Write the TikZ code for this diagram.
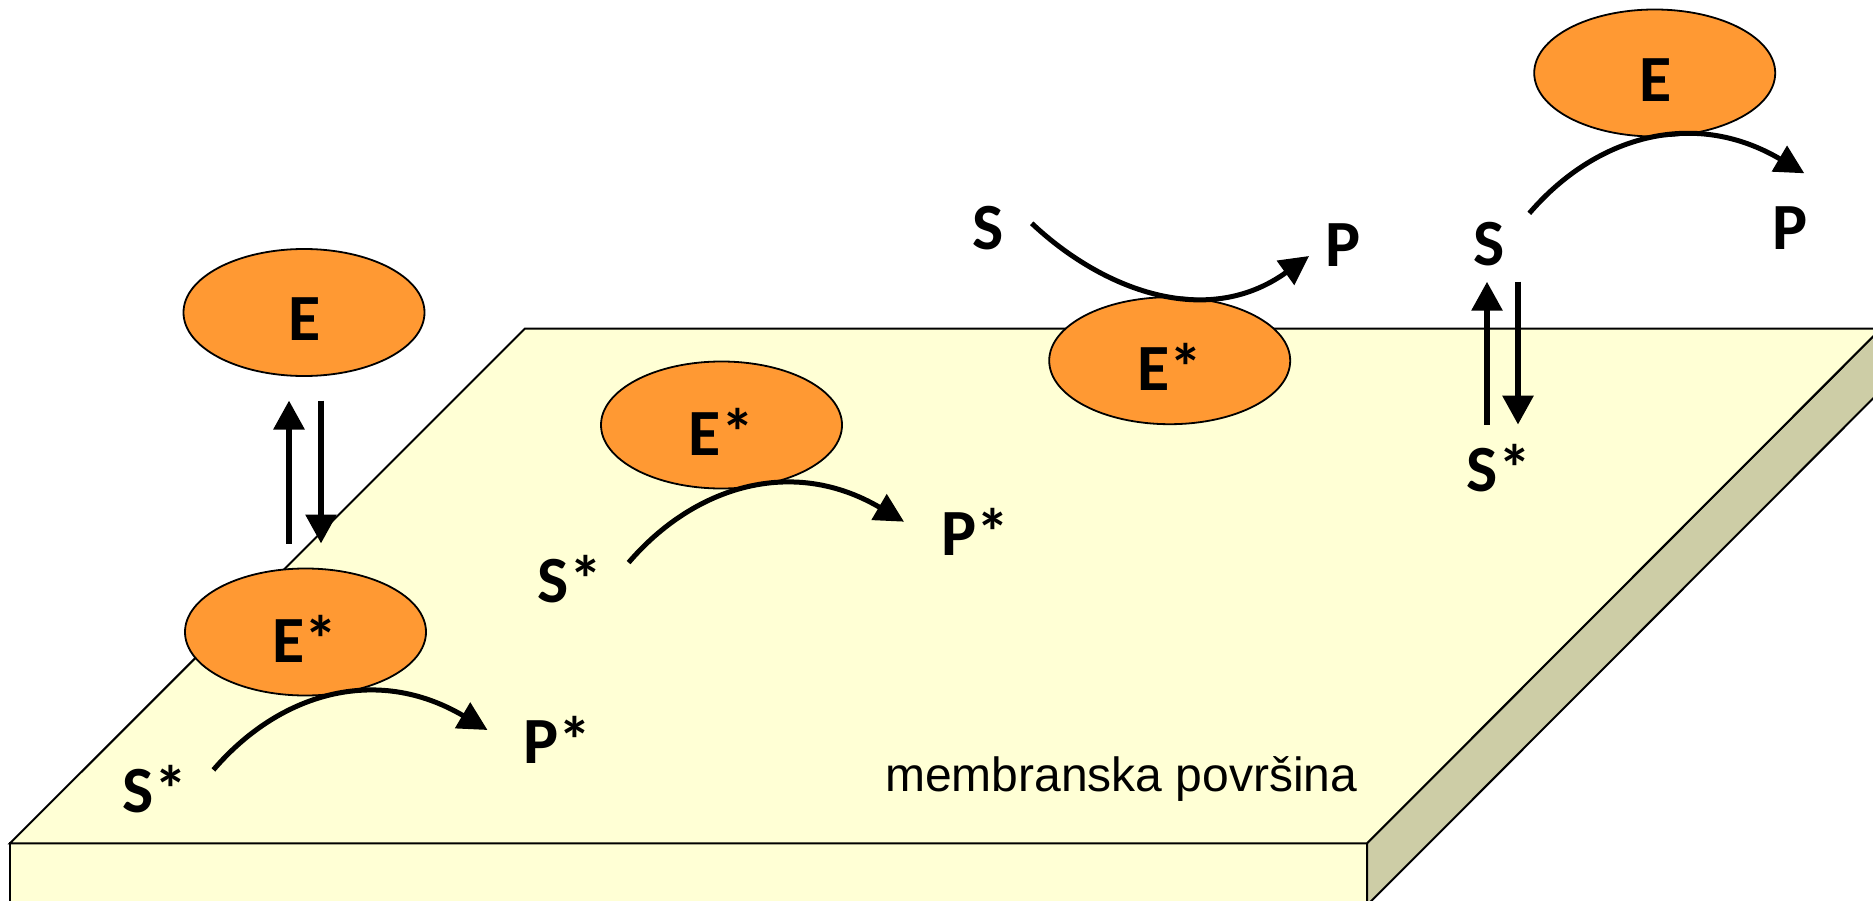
\documentclass[tikz,border=0pt]{standalone}
\usepackage{fontspec}
\setmainfont{Carlito}
\newfontfamily\labfont{Liberation Sans}
\usetikzlibrary{arrows.meta,shapes.geometric}
\definecolor{topface}{RGB}{255,255,213}
\definecolor{sideface}{RGB}{205,205,166}
\definecolor{enz}{RGB}{255,153,51}
\begin{document}
\begin{tikzpicture}[x=1pt,y=-1pt,
  enzyme/.style={ellipse, draw=black, line width=1.8pt, fill=enz,
    minimum width=241pt, minimum height=127pt, inner sep=0pt},
  mol/.style={font=\fontsize{66}{70}\selectfont\bfseries, inner sep=0pt, anchor=center},
  react/.style={line width=5pt, -{Triangle[length=29pt,width=29pt]}},
  eqarrow/.style={line width=6pt, -{Triangle[length=29pt,width=30pt]}},
  slab/.style={draw=black, line width=2pt, line join=miter}]
\useasboundingbox (0,0) rectangle (1873,901);
\clip (0,0) rectangle (1873,901);
% slab
\draw[slab, fill=sideface] (1367,843.3) -- (1881,328.5) -- (1881,390.5) -- (1367,905.3) -- cycle;
\draw[slab, fill=topface] (10,843.3) -- (1367,843.3) -- (1367,930) -- (10,930) -- cycle;
\draw[slab, fill=topface] (10,843.3) -- (525,328.5) -- (1881,328.5) -- (1367,843.3) -- cycle;
\node[anchor=base west, font=\labfont\fontsize{48}{50}\selectfont, inner sep=0pt] (surf) at (885,791.7) {membranska površina};
% enzymes
\node[enzyme] (e1) at (304,312.5) {};
\node[mol] (e1t) at (305,319) {E};
\node[enzyme] (e2) at (305.5,632) {};
\node[mol] (e2t) at (305,639) {E*};
\node[enzyme] (e3) at (721.5,425) {};
\node[mol] (e3t) at (721.5,432) {E*};
\node[enzyme] (e4) at (1169.7,360.7) {};
\node[mol] (e4t) at (1170,367) {E*};
\node[enzyme] (e5) at (1654.7,73) {};
\node[mol] (e5t) at (1656,80) {E};
% molecules
\node[mol] (s1) at (155,789) {S*};
\node[mol] (p1) at (557,740) {P*};
\node[mol] (s2) at (570,579) {S*};
\node[mol] (p2) at (975,532) {P*};
\node[mol] (s3) at (988,228) {S};
\node[mol] (p3) at (1343,245) {P};
\node[mol] (s4) at (1489,244) {S};
\node[mol] (p4) at (1790,228) {P};
\node[mol] (s5) at (1499,468) {S*};
% arc end points
\coordinate (a1s) at (213.4,769.9);
\coordinate (a1e) at (487.5,730);
\coordinate (a2s) at (628.6,562.6);
\coordinate (a2e) at (904,521.7);
\coordinate (a3s) at (1031.7,223.3);
\coordinate (a3e) at (1309,256);
\coordinate (a4s) at (1529.3,213.3);
\coordinate (a4e) at (1804.3,173.3);
% reactions
\draw[react] (a1s) .. controls +(65,-76) and +(-112,-66) .. (a1e);
\draw[react] (a2s) .. controls +(65,-76) and +(-112,-66) .. (a2e);
\draw[react] (a3s) .. controls +(70,66) and +(-103,74) .. (a3e);
\draw[react] (a4s) .. controls +(65,-76) and +(-112,-66) .. (a4e);
% equilibria
\coordinate (u1a) at (289,543.5);
\coordinate (u1b) at (289,400.5);
\coordinate (d1a) at (321,400.5);
\coordinate (d1b) at (321,543.5);
\coordinate (u2a) at (1487,424.6);
\coordinate (u2b) at (1487,281.7);
\coordinate (d2a) at (1518,281.7);
\coordinate (d2b) at (1518,424.6);
\draw[eqarrow] (u1a) -- (u1b);
\draw[eqarrow] (d1a) -- (d1b);
\draw[eqarrow] (u2a) -- (u2b);
\draw[eqarrow] (d2a) -- (d2b);
\end{tikzpicture}
\end{document}
